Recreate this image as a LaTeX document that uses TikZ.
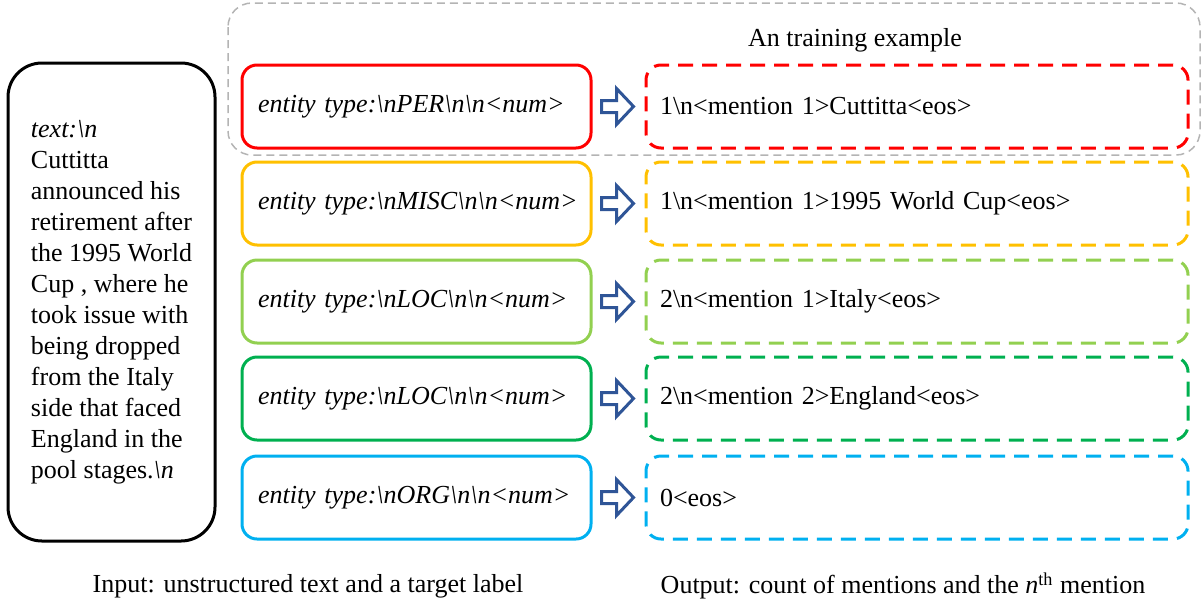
\documentclass[tikz,border=0pt]{standalone}
\usepackage{fontspec}
\setmainfont{Liberation Serif}
\usetikzlibrary{calc}
\definecolor{cred}{HTML}{FF0000}
\definecolor{cyel}{HTML}{FFC000}
\definecolor{clgr}{HTML}{92D050}
\definecolor{cgrn}{HTML}{00B050}
\definecolor{cblu}{HTML}{00B0F0}
\definecolor{carr}{HTML}{2F5597}
\definecolor{cgray}{HTML}{B4B4B4}
\newcommand{\bs}{\textbackslash}
\begin{document}
\begin{tikzpicture}[x=0.5pt,y=-0.5pt,
  font=\fontsize{13}{15.5}\selectfont,
  inbox/.style={draw=#1,line width=1.5pt,rounded corners=7.5pt,
    minimum width=174.5pt,minimum height=41.5pt,text width=158.5pt,
    inner xsep=8pt,align=left},
  outbox/.style={draw=#1,line width=1.5pt,rounded corners=7.5pt,
    dash pattern=on 7.5pt off 4.5pt,
    minimum width=271pt,minimum height=41.5pt,text width=257pt,
    inner xsep=7pt,align=left},
  barrow/.style={draw=carr,line width=1.5pt,fill=white,line join=miter}]
\useasboundingbox (0,0) rectangle (1202,605);
% training example frame
\draw[cgray,line width=0.75pt,dash pattern=on 4pt off 2.5pt,rounded corners=12pt]
  (228,3) rectangle (1200,155);
\node (title) at (855,40) {An training example};
% input text box
\node[draw,line width=1.5pt,rounded corners=17pt,minimum width=103.5pt,
  minimum height=239pt,align=left]
  (txt) at (111.5,302) {\textit{text:\bs n}\\Cuttitta\\announced his\\retirement after\\the 1995 World\\Cup , where he\\took issue with\\being dropped\\from the Italy\\side that faced\\England in the\\pool stages.\textit{\bs n}};
% rows
\node[inbox=cred] (l1) at (416.5,106.5) {\mbox{\textit{entity type:\bs nPER\bs n\bs n<num>}}};
\node[inbox=cyel] (l2) at (416.5,203.5) {\mbox{\textit{entity type:\bs nMISC\bs n\bs n<num>}}};
\node[inbox=clgr] (l3) at (416.5,301.5) {\mbox{\textit{entity type:\bs nLOC\bs n\bs n<num>}}};
\node[inbox=cgrn] (l4) at (416.5,398.5) {\mbox{\textit{entity type:\bs nLOC\bs n\bs n<num>}}};
\node[inbox=cblu] (l5) at (416.5,497.5) {\mbox{\textit{entity type:\bs nORG\bs n\bs n<num>}}};
\node[outbox=cred] (r1) at (917,106.5) {\mbox{1\bs n<mention 1>Cuttitta<eos>}};
\node[outbox=cyel] (r2) at (917,203.5) {\mbox{1\bs n<mention 1>1995 World Cup<eos>}};
\node[outbox=clgr] (r3) at (917,301.5) {\mbox{2\bs n<mention 1>Italy<eos>}};
\node[outbox=cgrn] (r4) at (917,398.5) {\mbox{2\bs n<mention 2>England<eos>}};
\node[outbox=cblu] (r5) at (917,497.5) {\mbox{0<eos>}};
% block arrows
\foreach \i in {1,...,5}{
  \draw[barrow] ($(l\i.east)+(9,-6)$) -- ++(15,0) -- ++(0,-12) -- ++(17,18)
    -- ++(-17,18) -- ++(0,-12) -- ++(-15,0) -- cycle;
}
% captions
\node (cin) at (308,586) {Input: unstructured text and a target label};
\node (cout) at (903,586) {Output: count of mentions and the \textit{n}\textsuperscript{th} mention};
\end{tikzpicture}
\end{document}
